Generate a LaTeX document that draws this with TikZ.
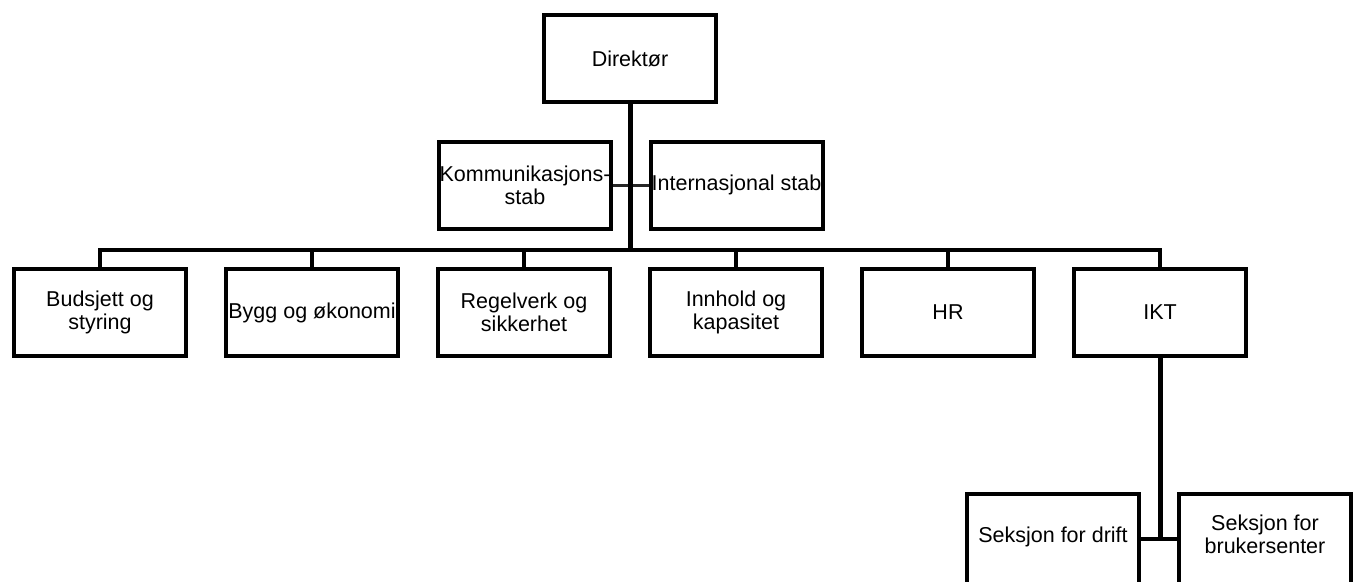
\documentclass[tikz,border=0pt]{standalone}
\usepackage{fontspec}
\setmainfont{Liberation Sans}
\newcommand{\tekst}{\fontsize{21.5}{23}\selectfont}

\begin{document}
\begin{tikzpicture}
		[x=1pt, y=-1pt,
		boks/.style={draw, line width=4pt, minimum width=172pt,
			minimum height=87pt, inner sep=0pt, align=center, font=\tekst},
		seksjon/.style={boks, minimum height=95pt, text depth=14pt},
		linje/.style={line width=4pt},
		stamme/.style={line width=5pt},
		stab/.style={line width=3pt, black!85}]
		\useasboundingbox (0,0) rectangle (1362,581);
		% ledelse og stab
		\node[boks] (direktor) at (630,58.5) {Direktør};
		\node[boks] (komm) at (525,185) {Kommunikasjons-\\stab};
		\node[boks] (intern) at (736.5,185) {Internasjonal stab};
		% avdelinger
		\node[boks] (budsjett) at (100,312.5) {Budsjett og\\styring};
		\node[boks] (bygg) at (312,312.5) {Bygg og økonomi};
		\node[boks] (regelverk) at (524,312.5) {Regelverk og\\sikkerhet};
		\node[boks] (innhold) at (736,312.5) {Innhold og\\kapasitet};
		\node[boks] (hr) at (948,312.5) {HR};
		\node[boks] (ikt) at (1160,312.5) {IKT};
		% seksjoner under IKT
		\node[seksjon] (drift) at (1053,541.5) {Seksjon for drift};
		\node[seksjon] (brukersenter) at (1265,541.5) {Seksjon for\\brukersenter};
		\coordinate (buss) at (630,250);
		\coordinate (ikt-knute) at (1160,539);
		\draw[stab] (komm) -- (intern);
		\draw[stamme] (direktor.south) -- (buss);
		\draw[linje] (budsjett.north) |- (buss);
		\draw[linje] (bygg.north) |- (buss);
		\draw[linje] (regelverk.north) |- (buss);
		\draw[linje] (innhold.north) |- (buss);
		\draw[linje] (hr.north) |- (buss);
		\draw[linje] (ikt.north) |- (buss);
		\draw[stamme] (ikt.south) -- (ikt-knute);
		\draw[linje] (drift.east |- ikt-knute) -- (brukersenter.west |- ikt-knute);
	\end{tikzpicture}
\end{document}
